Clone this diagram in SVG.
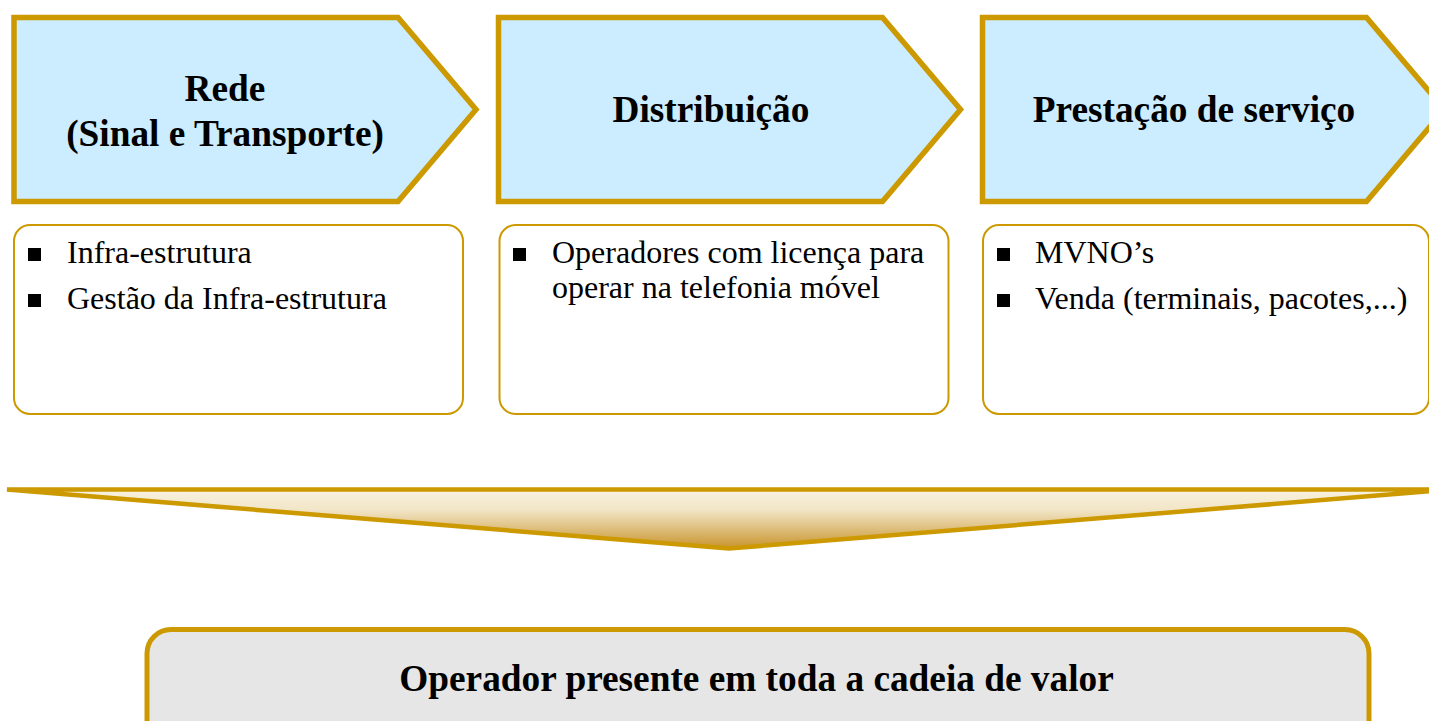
<svg xmlns="http://www.w3.org/2000/svg" width="1429" height="721" viewBox="0 0 1429 721">
<style>
.chev{fill:#CCECFF;stroke:#CC9900;stroke-width:5.5;stroke-linejoin:miter}
.box{fill:#FFFFFF;stroke:#CC9900;stroke-width:2}
.title{font-family:"Liberation Serif","Times New Roman",serif;font-weight:bold;font-size:37.3px;fill:#000;text-anchor:middle}
.item{font-family:"Liberation Serif","Times New Roman",serif;font-size:32px;fill:#000}
.bul{fill:#000}
</style>
<defs>
<linearGradient id="fun" x1="0" y1="0" x2="0" y2="1">
<stop offset="0" stop-color="#F8F2E1"/>
<stop offset="0.35" stop-color="#F2E5C6"/>
<stop offset="1" stop-color="#C8942C"/>
</linearGradient>
</defs>
<g id="chevron-rede">
<path class="chev" d="M14,17.5 L398,17.5 L476,109.5 L398,201.5 L14,201.5 Z"/>
<text class="title" x="225" y="100.5">Rede</text>
<text class="title" x="225" y="145.5">(Sinal e Transporte)</text>
</g>
<g id="chevron-distribuicao">
<path class="chev" d="M498.5,17.5 L882.5,17.5 L960.5,109.5 L882.5,201.5 L498.5,201.5 Z"/>
<text class="title" x="711" y="122">Distribuição</text>
</g>
<g id="chevron-prestacao">
<path class="chev" d="M982.5,17.5 L1366.5,17.5 L1444.5,109.5 L1366.5,201.5 L982.5,201.5 Z"/>
<text class="title" x="1194" y="122">Prestação de serviço</text>
</g>
<g id="box-rede">
<rect class="box" x="14" y="225" width="449" height="189" rx="16"/>
<rect class="bul" x="28" y="248" width="13" height="13"/>
<text class="item" x="67" y="263">Infra-estrutura</text>
<rect class="bul" x="28" y="294" width="13" height="13"/>
<text class="item" x="67" y="309">Gestão da Infra-estrutura</text>
</g>
<g id="box-distribuicao">
<rect class="box" x="499.5" y="225" width="449" height="189" rx="16"/>
<rect class="bul" x="513" y="248" width="13" height="13"/>
<text class="item" x="552" y="263">Operadores com licença para</text>
<text class="item" x="552" y="298">operar na telefonia móvel</text>
</g>
<g id="box-prestacao">
<rect class="box" x="983" y="225" width="446" height="189" rx="16"/>
<rect class="bul" x="997" y="248" width="13" height="13"/>
<text class="item" x="1035" y="263">MVNO’s</text>
<rect class="bul" x="997" y="294" width="13" height="13"/>
<text class="item" x="1035" y="309">Venda (terminais, pacotes,...)</text>
</g>
<g id="connectors">
<path id="funnel" d="M7,489.5 L1451,489.5 L729,548.5 Z" fill="url(#fun)" stroke="#CC9900" stroke-width="4.5" stroke-linejoin="miter"/>
</g>
<g id="operador">
<rect x="147" y="629.5" width="1222" height="130" rx="24" fill="#E6E6E6" stroke="#CC9900" stroke-width="5"/>
<text class="title" x="756.5" y="691">Operador presente em toda a cadeia de valor</text>
</g>
</svg>
